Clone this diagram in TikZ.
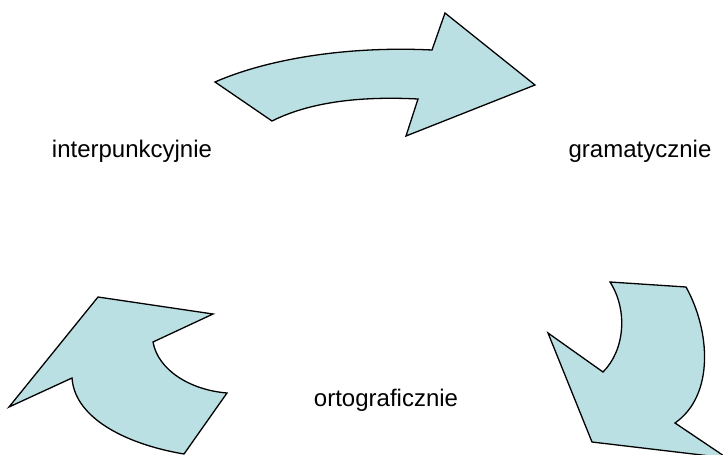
\documentclass[tikz,border=0pt]{standalone}
\usepackage{fontspec}
\setmainfont{Liberation Sans}
\begin{document}
\begin{tikzpicture}[x=1pt,y=-1pt,
  cyclearrow/.style={fill=arrowfill,draw=black,line width=1.3pt,line join=miter},
  label/.style={anchor=base,inner sep=0pt,font=\fontsize{24}{28}\selectfont}]
\definecolor{arrowfill}{HTML}{BBE0E3}
\useasboundingbox (0,0) rectangle (723,455);
\clip (0,0) rectangle (723,455);

% curved arrow at the top, pointing right
\draw[cyclearrow] (215,82) .. controls (270,58) and (350,46) .. (432,50)
  -- (445,13) -- (535,85) -- (406,136) -- (418,99)
  .. controls (360,96) and (310,102) .. (272,121) -- cycle;

% curved arrow on the right, pointing down
\draw[cyclearrow] (610,282) -- (686,287)
  .. controls (710,330) and (715,395) .. (675,423)
  -- (727,458) -- (592,442) -- (548,333) -- (603,372)
  .. controls (625,350) and (628,310) .. (610,282) -- cycle;

% curved arrow on the left, pointing up
\draw[cyclearrow] (98,297) -- (213,314) -- (153,342)
  .. controls (158,370) and (190,390) .. (227,393)
  -- (184,454) .. controls (130,445) and (75,420) .. (72,378)
  -- (9,407) -- cycle;

\node[label] (interp) at (132,157) {interpunkcyjnie};
\node[label] (gram) at (640,157) {gramatycznie};
\node[label] (orto) at (386,406) {ortograficznie};
\end{tikzpicture}
\end{document}
